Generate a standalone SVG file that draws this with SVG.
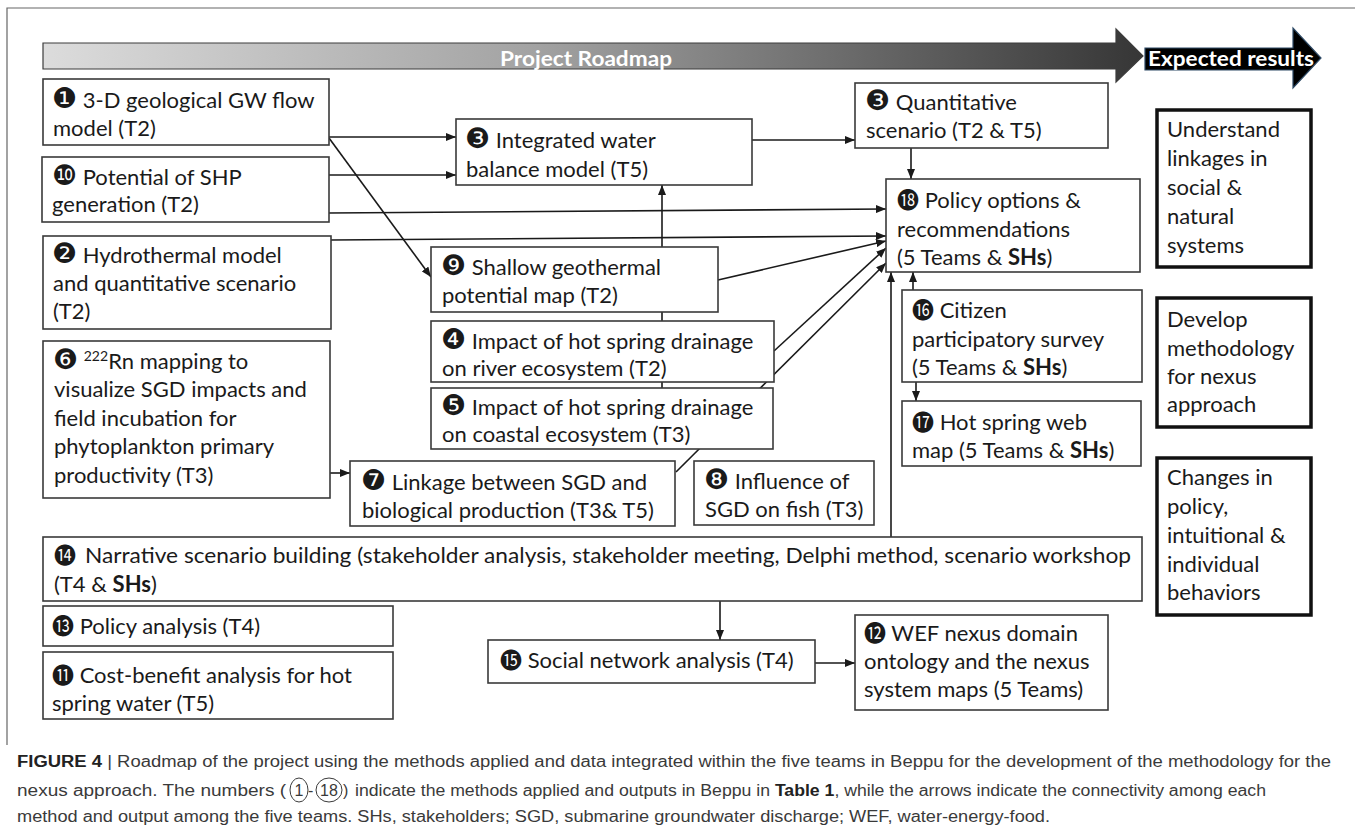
<svg xmlns="http://www.w3.org/2000/svg" width="1355" height="839" viewBox="0 0 1355 839">
<defs>
<linearGradient id="gband" gradientUnits="userSpaceOnUse" x1="43" y1="0" x2="1143" y2="0">
<stop offset="0" stop-color="#dcdcdc"/>
<stop offset="0.45" stop-color="#a2a2a2"/>
<stop offset="1" stop-color="#363636"/>
</linearGradient>
<marker id="ah" markerUnits="userSpaceOnUse" markerWidth="10" markerHeight="8" viewBox="0 0 10 8" refX="10" refY="4" orient="auto">
<path d="M0,0 L10,4 L0,8 z" fill="#1a1a1a"/>
</marker>
<style>
.box{fill:#fff;stroke:#3a3a3a;stroke-width:1.6}
.rbox{fill:#fff;stroke:#111;stroke-width:3.5}
.t{font-family:Lato,"Open Sans",sans-serif;font-size:22px;fill:#1a1a1a}
.n{font-family:"DejaVu Sans","Noto Sans CJK JP",sans-serif;font-size:28px}
.n2{font-family:"DejaVu Sans","Noto Sans CJK JP",sans-serif;font-size:22px}
.b{font-weight:bold}
.c{stroke:#1a1a1a;stroke-width:1.6;fill:none;marker-end:url(#ah)}
.cap{font-family:"Liberation Sans",Arial,sans-serif;font-size:16px;fill:#3a3a3a}
.w{font-family:Lato,"Open Sans",sans-serif;font-size:20px;font-weight:bold;fill:#fff}
</style>
</defs>
<rect width="1355" height="839" fill="#fff"/>
<path d="M7,745 L7,8 L1355,8" fill="none" stroke="#666" stroke-width="1.2"/>

<g id="banner">
<polygon points="43,43 1116,43 1116,29 1143,56 1116,82 1116,69 43,69" fill="url(#gband)" stroke="#3c3c3c" stroke-width="1.2"/>
<text class="w" x="500" y="66" textLength="172" lengthAdjust="spacingAndGlyphs">Project Roadmap</text>
</g>
<g id="expected">
<polygon points="1145,48 1293,48 1293,28 1321,58 1293,88 1293,70 1145,70" fill="#000" stroke="#2e4a66" stroke-width="1.2"/>
<text class="w" x="1148" y="66" textLength="166" lengthAdjust="spacingAndGlyphs">Expected results</text>
</g>

<g id="connectors">
<line class="c" x1="329" y1="137" x2="456" y2="137"/>
<line class="c" x1="329" y1="175" x2="456" y2="175"/>
<line class="c" x1="329" y1="138" x2="431" y2="277"/>
<line class="c" x1="329" y1="213" x2="886" y2="209"/>
<line class="c" x1="331" y1="240" x2="886" y2="236"/>
<line class="c" x1="662" y1="388" x2="662" y2="185"/>
<line class="c" x1="752" y1="140" x2="855" y2="140"/>
<line class="c" x1="911" y1="148" x2="911" y2="179"/>
<line class="c" x1="718" y1="280" x2="886" y2="241"/>
<line class="c" x1="774" y1="351" x2="886" y2="248"/>
<line class="c" x1="676" y1="472" x2="886" y2="263"/>
<line class="c" x1="330" y1="473" x2="350" y2="473"/>
<line class="c" x1="891" y1="537" x2="891" y2="272"/>
<line class="c" x1="913" y1="290" x2="913" y2="272"/>
<line class="c" x1="916" y1="382" x2="916" y2="401"/>
<line class="c" x1="720" y1="601" x2="720" y2="640"/>
<line class="c" x1="815" y1="663" x2="855" y2="663"/>
</g>

<g id="n1"><rect class="box" x="43" y="79" width="286" height="66"/>
<text class="t" x="52" y="108"><tspan class="n">❶</tspan> 3-D geological GW flow</text>
<text class="t" x="53" y="136">model (T2)</text></g>

<g id="n10"><rect class="box" x="42" y="157" width="287" height="65"/>
<text class="t" x="52" y="185"><tspan class="n">❿</tspan> Potential of SHP</text>
<text class="t" x="52" y="212">generation (T2)</text></g>

<g id="n2"><rect class="box" x="43" y="236" width="288" height="93"/>
<text class="t" x="52" y="263"><tspan class="n">❷</tspan> Hydrothermal model</text>
<text class="t" x="53" y="291">and quantitative scenario</text>
<text class="t" x="53" y="319">(T2)</text></g>

<g id="n6"><rect class="box" x="43" y="341" width="287" height="157"/>
<text class="t" x="53" y="369"><tspan class="n">❻</tspan> <tspan font-size="14" dy="-8">222</tspan><tspan dy="8">Rn mapping to</tspan></text>
<text class="t" x="54" y="397">visualize SGD impacts and</text>
<text class="t" x="54" y="426">field incubation for</text>
<text class="t" x="54" y="454">phytoplankton primary</text>
<text class="t" x="54" y="483">productivity (T3)</text></g>

<g id="n3a"><rect class="box" x="456" y="119" width="296" height="66"/>
<text class="t" x="465" y="148"><tspan class="n">❸</tspan> Integrated water</text>
<text class="t" x="466" y="177">balance model (T5)</text></g>

<g id="n3b"><rect class="box" x="855" y="83" width="253" height="65"/>
<text class="t" x="865" y="110"><tspan class="n">❸</tspan> Quantitative</text>
<text class="t" x="866" y="138">scenario (T2 &amp; T5)</text></g>

<g id="n9"><rect class="box" x="431" y="247" width="287" height="65"/>
<text class="t" x="441" y="275"><tspan class="n">❾</tspan> Shallow geothermal</text>
<text class="t" x="442" y="303">potential map (T2)</text></g>

<g id="n4"><rect class="box" x="431" y="321" width="343" height="61"/>
<text class="t" x="441" y="349"><tspan class="n">❹</tspan> Impact of hot spring drainage</text>
<text class="t" x="442" y="376">on river ecosystem (T2)</text></g>

<g id="n5"><rect class="box" x="431" y="388" width="342" height="61"/>
<text class="t" x="441" y="415"><tspan class="n">❺</tspan> Impact of hot spring drainage</text>
<text class="t" x="442" y="442">on coastal ecosystem (T3)</text></g>

<g id="n7"><rect class="box" x="350" y="461" width="325" height="65"/>
<text class="t" x="361" y="490"><tspan class="n">❼</tspan> Linkage between SGD and</text>
<text class="t" x="362" y="518">biological production (T3&amp; T5)</text></g>

<g id="n8"><rect class="box" x="694" y="461" width="180" height="64"/>
<text class="t" x="704" y="489"><tspan class="n">❽</tspan> Influence of</text>
<text class="t" x="705" y="517">SGD on fish (T3)</text></g>

<g id="n18"><rect class="box" x="886" y="179" width="254" height="93"/>
<text class="t" x="897" y="208"><tspan class="n2">⓲</tspan> Policy options &amp;</text>
<text class="t" x="897" y="237">recommendations</text>
<text class="t" x="897" y="265">(5 Teams &amp; <tspan class="b">SHs</tspan>)</text></g>

<g id="n16"><rect class="box" x="902" y="290" width="240" height="92"/>
<text class="t" x="912" y="318"><tspan class="n2">⓰</tspan> Citizen</text>
<text class="t" x="912" y="347">participatory survey</text>
<text class="t" x="912" y="375">(5 Teams &amp; <tspan class="b">SHs</tspan>)</text></g>

<g id="n17"><rect class="box" x="902" y="401" width="239" height="65"/>
<text class="t" x="912" y="430"><tspan class="n2">⓱</tspan> Hot spring web</text>
<text class="t" x="912" y="458">map (5 Teams &amp; <tspan class="b">SHs</tspan>)</text></g>

<g id="n14"><rect class="box" x="43" y="537" width="1099" height="64"/>
<text class="t" x="54" y="563"><tspan class="n2">⓮</tspan></text>
<text class="t" x="85" y="563" textLength="1046" lengthAdjust="spacingAndGlyphs">Narrative scenario building (stakeholder analysis, stakeholder meeting, Delphi method, scenario workshop</text>
<text class="t" x="54" y="592">(T4 &amp; <tspan class="b">SHs</tspan>)</text></g>

<g id="n13"><rect class="box" x="43" y="606" width="350" height="40"/>
<text class="t" x="52" y="634"><tspan class="n2">⓭</tspan> Policy analysis (T4)</text></g>

<g id="n11"><rect class="box" x="43" y="652" width="350" height="67"/>
<text class="t" x="52" y="683"><tspan class="n2">⓫</tspan> Cost-benefit analysis for hot</text>
<text class="t" x="52" y="711">spring water (T5)</text></g>

<g id="n15"><rect class="box" x="488" y="640" width="327" height="43"/>
<text class="t" x="500" y="668"><tspan class="n2">⓯</tspan> Social network analysis (T4)</text></g>

<g id="n12"><rect class="box" x="855" y="615" width="253" height="95"/>
<text class="t" x="864" y="641"><tspan class="n2">⓬</tspan> WEF nexus domain</text>
<text class="t" x="864" y="669">ontology and the nexus</text>
<text class="t" x="864" y="697">system maps (5 Teams)</text></g>

<g id="r1"><rect class="rbox" x="1157" y="110" width="154" height="157"/>
<text class="t" x="1167" y="137">Understand</text>
<text class="t" x="1167" y="166">linkages in</text>
<text class="t" x="1167" y="195">social &amp;</text>
<text class="t" x="1167" y="224">natural</text>
<text class="t" x="1167" y="253">systems</text></g>

<g id="r2"><rect class="rbox" x="1157" y="298" width="154" height="129"/>
<text class="t" x="1167" y="327">Develop</text>
<text class="t" x="1167" y="356">methodology</text>
<text class="t" x="1167" y="384">for nexus</text>
<text class="t" x="1167" y="412">approach</text></g>

<g id="r3"><rect class="rbox" x="1157" y="458" width="154" height="157"/>
<text class="t" x="1167" y="485">Changes in</text>
<text class="t" x="1167" y="514">policy,</text>
<text class="t" x="1167" y="543">intuitional &amp;</text>
<text class="t" x="1167" y="572">individual</text>
<text class="t" x="1167" y="600">behaviors</text></g>

<g id="caption">
<text class="cap" x="17" y="767" textLength="1314" lengthAdjust="spacingAndGlyphs"><tspan class="b" fill="#222">FIGURE 4</tspan> | Roadmap of the project using the methods applied and data integrated within the five teams in Beppu for the development of the methodology for the</text>
<text class="cap" x="17" y="796" textLength="269" lengthAdjust="spacingAndGlyphs">nexus approach. The numbers (</text>
<ellipse cx="299" cy="790" rx="9" ry="12" fill="none" stroke="#3a3a3a" stroke-width="1"/>
<text class="cap" x="299" y="796" text-anchor="middle">1</text>
<text class="cap" x="308" y="796">-</text>
<ellipse cx="329" cy="790" rx="13" ry="12" fill="none" stroke="#3a3a3a" stroke-width="1"/>
<text class="cap" x="329" y="796" text-anchor="middle">18</text>
<text class="cap" x="343" y="796">)</text>
<text class="cap" x="355" y="796" textLength="911" lengthAdjust="spacingAndGlyphs">indicate the methods applied and outputs in Beppu in <tspan class="b" fill="#222">Table 1</tspan>, while the arrows indicate the connectivity among each</text>
<text class="cap" x="17" y="822" textLength="1033" lengthAdjust="spacingAndGlyphs">method and output among the five teams. SHs, stakeholders; SGD, submarine groundwater discharge; WEF, water-energy-food.</text>
</g>
</svg>
